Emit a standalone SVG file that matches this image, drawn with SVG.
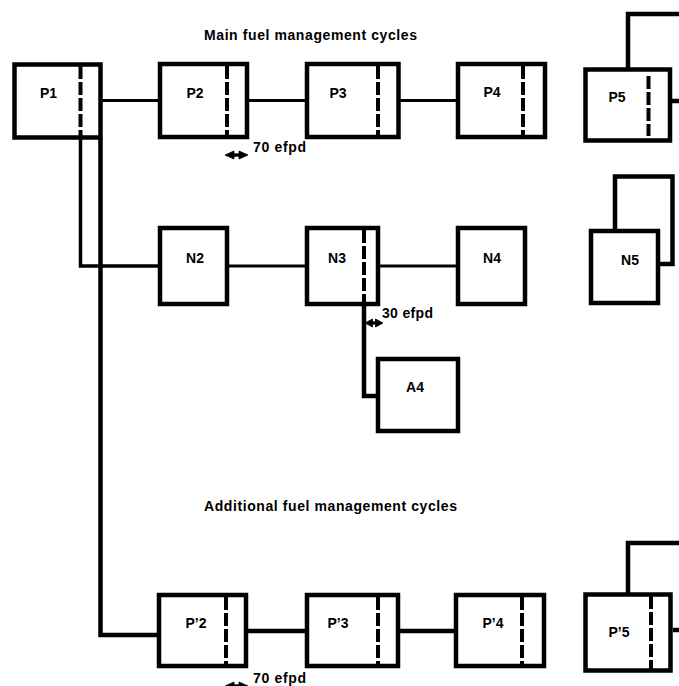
<svg xmlns="http://www.w3.org/2000/svg" width="679" height="686" viewBox="0 0 679 686">
<style>
.box{fill:#fff;stroke:#000;stroke-width:4.5}
.dash{stroke:#000;stroke-width:4;stroke-dasharray:13 3;fill:none}
.ln{stroke:#000;fill:none;stroke-width:3}
.thk{stroke:#000;fill:none;stroke-width:4.5}
.lbl{font-family:"Liberation Sans",Arial,sans-serif;font-weight:bold;font-size:14px;fill:#000;text-anchor:middle}
.txt{font-family:"Liberation Sans",Arial,sans-serif;font-weight:bold;font-size:14px;fill:#000}
.arrw{fill:#000;stroke:#000;stroke-width:0.8;stroke-linejoin:round}
</style>
<defs>
<path id="dbl" class="arrw" d="M-11.5,0 L-2.5,-4 L-2.5,-1.2 L2.5,-1.2 L2.5,-4 L11.5,0 L2.5,4 L2.5,1.2 L-2.5,1.2 L-2.5,4 Z"/>
<path id="dbls" class="arrw" d="M-9,0 L-1.5,-4 L-1.5,-1.2 L1.5,-1.2 L1.5,-4 L9,0 L1.5,4 L1.5,1.2 L-1.5,1.2 L-1.5,4 Z"/>
</defs>
<rect width="679" height="686" fill="#fff"/>
<text class="txt" x="204" y="39.5" textLength="213" lengthAdjust="spacing">Main fuel management cycles</text>
<text class="txt" x="204" y="510.5" textLength="253" lengthAdjust="spacing">Additional fuel management cycles</text>
<g id="connectors">
<path class="ln" d="M102,100.5 H160"/>
<path class="ln" d="M249,100.5 H307"/>
<path class="ln" d="M400,100.5 H458"/>
<path class="thk" d="M628,69 V14 H679"/>
<path class="thk" d="M672,101 H679"/>
<path class="dash" style="stroke-dasharray:none;stroke-width:3.5" d="M80.5,138 V266 H160"/>
<path class="thk" d="M100.5,138 V635 H159"/>
<path class="ln" d="M229,266 H307"/>
<path class="ln" d="M380,266 H458"/>
<path class="thk" d="M364,304 V396 H378"/>
<path class="thk" d="M615,231 V176.5 H672.5 V264 H660"/>
<path class="thk" d="M248,631 H307"/>
<path class="thk" d="M400,631 H456"/>
<path class="thk" d="M628,594 V543 H679"/>
<path class="thk" d="M673,630 H679"/>
<use href="#dbl" x="236.5" y="155"/>
<use href="#dbls" x="374" y="323"/>
<use href="#dbl" x="236.5" y="686"/>
</g>
<text class="txt" x="253" y="152" textLength="53" lengthAdjust="spacing">70 efpd</text>
<text class="txt" x="382" y="318" textLength="51" lengthAdjust="spacing">30 efpd</text>
<text class="txt" x="253" y="683" textLength="53" lengthAdjust="spacing">70 efpd</text>
<g id="P1"><rect class="box" x="14.5" y="64.5" width="86" height="73"/><line class="dash" x1="80.5" y1="66" x2="80.5" y2="138"/><text class="lbl" x="48.5" y="97.5">P1</text></g>
<g id="P2"><rect class="box" x="160" y="64" width="87" height="73"/><line class="dash" x1="227" y1="66" x2="227" y2="136"/><text class="lbl" x="195" y="97.5">P2</text></g>
<g id="P3"><rect class="box" x="307" y="64" width="91.5" height="73"/><line class="dash" x1="378" y1="66" x2="378" y2="136"/><text class="lbl" x="338" y="97.5">P3</text></g>
<g id="P4"><rect class="box" x="458" y="64" width="87" height="73"/><line class="dash" x1="523" y1="66" x2="523" y2="136"/><text class="lbl" x="492" y="97">P4</text></g>
<g id="P5"><rect class="box" x="585.5" y="69.5" width="84.5" height="71"/><line class="dash" x1="648.5" y1="76" x2="648.5" y2="136"/><text class="lbl" x="617" y="101.5">P5</text></g>
<g id="N2"><rect class="box" x="160" y="228" width="67" height="76"/><text class="lbl" x="195" y="263">N2</text></g>
<g id="N3"><rect class="box" x="307" y="228" width="71" height="76"/><line class="dash" x1="364" y1="230" x2="364" y2="304"/><text class="lbl" x="337" y="263">N3</text></g>
<g id="N4"><rect class="box" x="458" y="228" width="67" height="76"/><text class="lbl" x="492" y="262.5">N4</text></g>
<g id="N5"><rect class="box" x="591" y="231" width="67" height="72"/><text class="lbl" x="630" y="265">N5</text></g>
<g id="A4"><rect class="box" x="378" y="359" width="80" height="72"/><text class="lbl" x="415" y="392">A4</text></g>
<g id="Pp2"><rect class="box" x="159" y="595" width="87" height="71"/><line class="dash" x1="226" y1="597" x2="226" y2="666"/><text class="lbl" x="196" y="628">P’2</text></g>
<g id="Pp3"><rect class="box" x="307" y="595" width="91" height="71"/><line class="dash" x1="378" y1="597" x2="378" y2="666"/><text class="lbl" x="338" y="628">P’3</text></g>
<g id="Pp4"><rect class="box" x="456" y="595" width="88" height="71"/><line class="dash" x1="522" y1="597" x2="522" y2="666"/><text class="lbl" x="493" y="628">P’4</text></g>
<g id="Pp5"><rect class="box" x="585.5" y="594.5" width="85" height="76"/><line class="dash" x1="651" y1="596" x2="651" y2="670"/><text class="lbl" x="619" y="636.5">P’5</text></g>
</svg>
